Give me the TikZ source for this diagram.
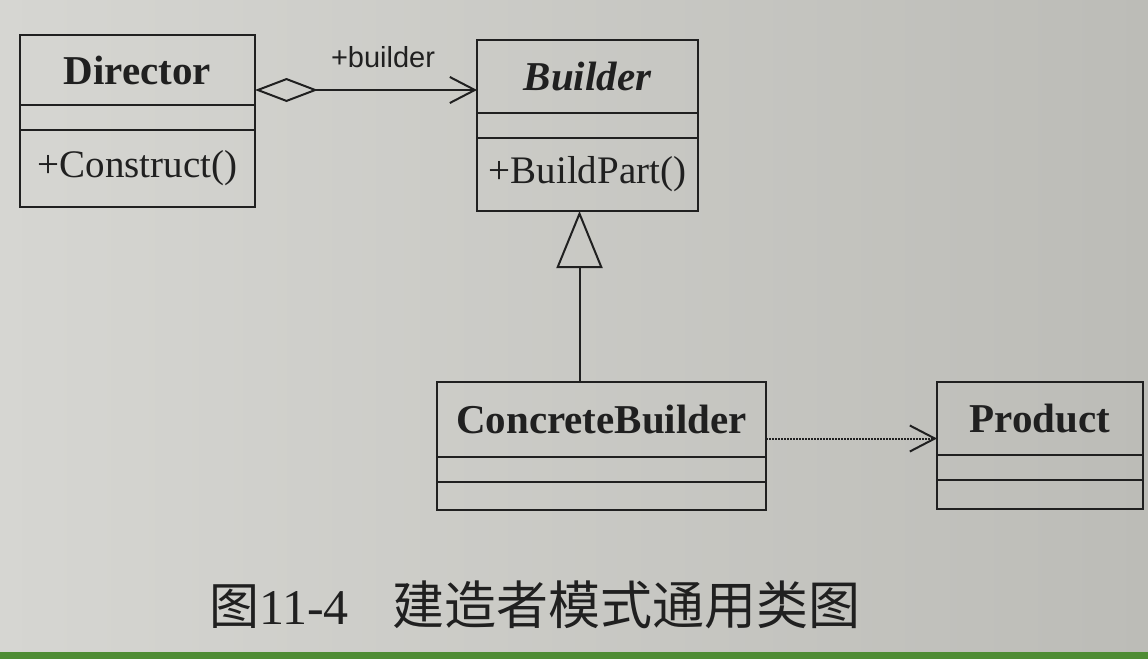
\documentclass[tikz,border=0pt]{standalone}
\usepackage{fontspec}
\setmainfont{Liberation Serif}
\setsansfont{Liberation Sans}
\newfontfamily\cjk{Noto Sans CJK SC}
\usetikzlibrary{positioning,arrows.meta}

\definecolor{paper}{RGB}{214,214,210}
\definecolor{paperdark}{RGB}{188,188,183}
\definecolor{ink}{RGB}{32,32,32}
\definecolor{strip}{RGB}{78,140,52}

\tikzset{
	part/.style={draw=ink, line width=2.3pt, outer sep=0pt, inner sep=0pt, text=ink,
		font=\fontsize{39pt}{46pt}\selectfont},
	namepart/.style={part, font=\fontsize{41pt}{48pt}\selectfont\bfseries},
	relation/.style={draw=ink, line width=2pt},
}

\begin{document}
\begin{tikzpicture}[x=1pt, y=-1pt]
			% page
			\useasboundingbox (0,0) rectangle (1148,659);
			\shade[left color=paper, right color=paperdark] (0,0) rectangle (1148,652);
			\fill[strip] (0,652) rectangle (1148,659);

			% Director
			\node[namepart, anchor=north west, minimum width=235pt, minimum height=70pt] (dirname) at (20,35) {Director};
			\node[part, below=0pt of dirname, minimum width=235pt, minimum height=25pt] (dirattr) {};
			\node[part, below=0pt of dirattr, minimum width=235pt, minimum height=77pt] (dirops) {+Construct()};

			% Builder
			\node[namepart, anchor=north west, minimum width=221pt, minimum height=73pt] (bldname) at (477,40) {\itshape Builder};
			\node[part, below=0pt of bldname, minimum width=221pt, minimum height=25pt] (bldattr) {};
			\node[part, below=0pt of bldattr, minimum width=221pt, minimum height=73pt] (bldops) {+BuildPart()};

			% ConcreteBuilder
			\node[namepart, anchor=north west, minimum width=329pt, minimum height=75pt] (cbname) at (437,382) {ConcreteBuilder};
			\node[part, below=0pt of cbname, minimum width=329pt, minimum height=25pt] (cbattr) {};
			\node[part, below=0pt of cbattr, minimum width=329pt, minimum height=28pt] (cbops) {};

			% Product
			\node[namepart, anchor=north west, minimum width=206pt, minimum height=73pt] (prodname) at (937,382) {Product};
			\node[part, below=0pt of prodname, minimum width=206pt, minimum height=25pt] (prodattr) {};
			\node[part, below=0pt of prodattr, minimum width=206pt, minimum height=29pt] (prodops) {};

			% aggregation
			\draw[relation, {Diamond[open, length=63pt, width=24pt]}-{Straight Barb[length=25pt, width=26pt]}]
					([yshift=-20pt]dirname.east) -- ([yshift=-20pt]dirname.east -| bldname.west);
			\node[text=ink, font=\sffamily\fontsize{29pt}{34pt}\selectfont] (role) at (383,57) {+builder};

			% generalization
			\draw[relation, -{Triangle[open, length=57pt, width=46pt]}]
					([xshift=-8pt]bldops.south |- cbname.north) -- ([xshift=-8pt]bldops.south);

			% dependency
			\draw[relation, densely dotted, -{Straight Barb[length=25pt, width=26pt]}]
					([yshift=-19pt]cbname.east) -- ([yshift=-19pt]cbname.east -| prodname.west);

			% caption
			\node[text=ink] (caption) at (535,605)
					{{\cjk\fontsize{50pt}{58pt}\selectfont 图}{\fontsize{50pt}{58pt}\selectfont 11-4}\hspace{44pt}{\cjk\fontsize{52pt}{60pt}\selectfont 建造者模式通用类图}};
		\end{tikzpicture}
\end{document}
